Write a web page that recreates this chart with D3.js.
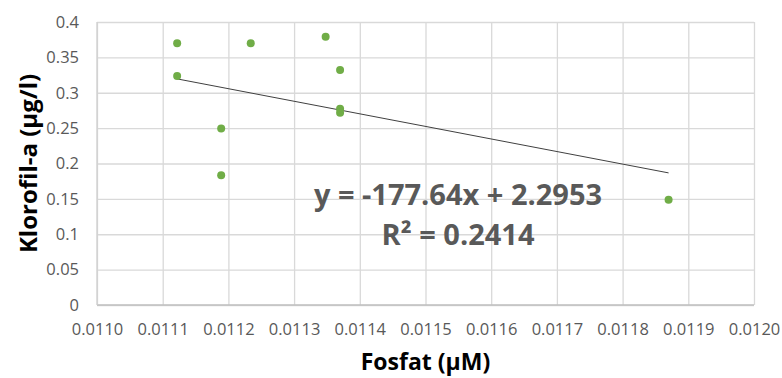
<!DOCTYPE html>
<html>
<head>
<meta charset="utf-8">
<script src="https://cdn.jsdelivr.net/npm/d3@7"></script>
<style>
    body { margin: 0; background: #fff; }
    text { font-family: "Open Sans", sans-serif; }
</style>
</head>
<body>
<div id="chart-area"></div>
<script>
// fosfat (µM) vs klorofil-a (µg/l)
const fosfat = [0.011122, 0.011122, 0.011189, 0.011189, 0.011234, 0.011348, 0.011370, 0.011370, 0.011370, 0.011870];
const klorofil = [0.370, 0.3236, 0.2496, 0.1835, 0.370, 0.379, 0.332, 0.2773, 0.2717, 0.1486];

const xTicks = [0.0110, 0.0111, 0.0112, 0.0113, 0.0114, 0.0115, 0.0116, 0.0117, 0.0118, 0.0119, 0.0120];
const yTicks = [0, 0.05, 0.1, 0.15, 0.2, 0.25, 0.3, 0.35, 0.4];

// trendline from the chart label
const slope = -177.64;
const intercept = 2.2953;
const eqLines = ["y = -177.64x + 2.2953", "R² = 0.2414"];

const data = fosfat.map((d, i) => ({ x: d, y: klorofil[i] }));

const width = 782, height = 378;
const margin = { left: 97, right: 28, top: 22, bottom: 73 };

const svg = d3.select("#chart-area").append("svg")
    .attr("width", width)
    .attr("height", height);

const x = d3.scaleLinear()
    .domain([0.0110, 0.0120])
    .range([margin.left, width - margin.right]);

const y = d3.scaleLinear()
    .domain([0, 0.4])
    .range([height - margin.bottom, margin.top]);

// gridlines
svg.append("g")
    .attr("transform", `translate(0,${height - margin.bottom})`)
    .call(d3.axisBottom(x).tickValues(xTicks).tickSize(-(height - margin.top - margin.bottom)).tickFormat(""))
    .call(g => g.select(".domain").remove())
    .selectAll("line").attr("stroke", "#d9d9d9").attr("stroke-width", 1.3);

svg.append("g")
    .attr("transform", `translate(${margin.left},0)`)
    .call(d3.axisLeft(y).tickValues(yTicks).tickSize(-(width - margin.left - margin.right)).tickFormat(""))
    .call(g => g.select(".domain").remove())
    .selectAll("line").attr("stroke", "#d9d9d9").attr("stroke-width", 1.3);

// axis lines
svg.append("line")
    .attr("x1", x(0.0110)).attr("x2", x(0.0120))
    .attr("y1", y(0)).attr("y2", y(0))
    .attr("stroke", "#bfbfbf").attr("stroke-width", 1.3);
svg.append("line")
    .attr("x1", x(0.0110)).attr("x2", x(0.0110))
    .attr("y1", y(0)).attr("y2", y(0.4))
    .attr("stroke", "#d0d0d0").attr("stroke-width", 1.3);

// tick labels
svg.append("g")
    .attr("transform", `translate(0,${height - margin.bottom})`)
    .call(d3.axisBottom(x).tickValues(xTicks).tickSize(0).tickPadding(18).tickFormat(d3.format(".4f")))
    .call(g => g.select(".domain").remove())
    .selectAll("text")
    .attr("fill", "#595959")
    .style("font-size", "16.5px")
    .style("font-family", "Open Sans");

svg.append("g")
    .attr("transform", `translate(${margin.left},0)`)
    .call(d3.axisLeft(y).tickValues(yTicks).tickSize(0).tickPadding(18).tickFormat(d => d3.format("")(+d.toFixed(2))))
    .call(g => g.select(".domain").remove())
    .selectAll("text")
    .attr("fill", "#595959")
    .style("font-size", "16.5px")
    .style("font-family", "Open Sans");

// trendline
const xMin = d3.min(fosfat), xMax = d3.max(fosfat);
svg.append("line")
    .attr("x1", x(xMin)).attr("y1", y(slope * xMin + intercept))
    .attr("x2", x(xMax)).attr("y2", y(slope * xMax + intercept))
    .attr("stroke", "#404040")
    .attr("stroke-width", 1);

// points
svg.selectAll("circle")
    .data(data)
    .enter()
    .append("circle")
    .attr("cx", d => x(d.x))
    .attr("cy", d => y(d.y))
    .attr("r", 4)
    .attr("fill", "#70ad47");

// equation label
svg.selectAll(".eq")
    .data(eqLines)
    .enter()
    .append("text")
    .attr("class", "eq")
    .attr("x", 458)
    .attr("y", (d, i) => 205 + i * 40)
    .attr("text-anchor", "middle")
    .attr("fill", "#595959")
    .style("font-size", "29px")
    .style("font-weight", "bold")
    .text(d => d);

// axis titles
svg.append("text")
    .attr("x", (margin.left + width - margin.right) / 2)
    .attr("y", 370)
    .attr("text-anchor", "middle")
    .style("font-size", "23px")
    .style("font-weight", "bold")
    .attr("fill", "#000")
    .text("Fosfat (µM)");

svg.append("text")
    .attr("transform", `translate(37,${(margin.top + height - margin.bottom) / 2}) rotate(-90)`)
    .attr("text-anchor", "middle")
    .style("font-size", "24px")
    .style("font-weight", "bold")
    .attr("fill", "#000")
    .text("Klorofil-a (µg/l)");
</script>
</body>
</html>
